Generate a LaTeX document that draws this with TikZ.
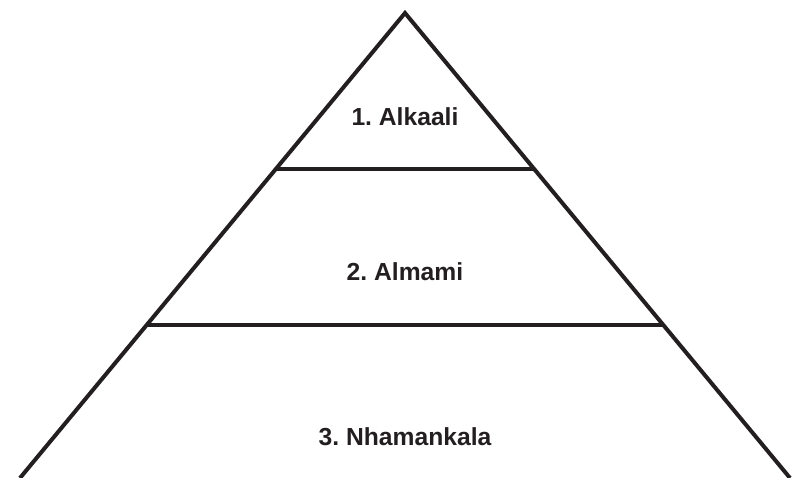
\documentclass[tikz,border=0pt]{standalone}
\usepackage{fontspec}
\setmainfont{Liberation Sans}
\usetikzlibrary{calc}
\definecolor{ink}{HTML}{231F20}
\tikzset{
    edge/.style={draw=ink, line width=3pt, line join=miter},
    tier/.style={text=ink, font=\bfseries\fontsize{18.5}{20}\selectfont, inner sep=0pt},
}
\frenchspacing
\begin{document}
\begin{tikzpicture}[x=0.75pt, y=-0.75pt]
    \path[use as bounding box] (0,0) rectangle (793,478);

    \coordinate (apex) at (405,13);
    \coordinate (baseL) at (20,478);
    \coordinate (baseR) at (790,478);

    % tier borders on the two sides
    \coordinate (upL) at ($(apex)!156/465!(baseL)$);
    \coordinate (upR) at ($(apex)!156/465!(baseR)$);
    \coordinate (midL) at ($(apex)!312/465!(baseL)$);
    \coordinate (midR) at ($(apex)!312/465!(baseR)$);

    \draw[edge] (baseL) -- (apex) -- (baseR);
    \draw[edge] (upL) -- (upR);
    \draw[edge] (midL) -- (midR);

    \node[tier] (alkaali) at (405,117) {1. Alkaali};
    \node[tier] (almami) at (405,272) {2. Almami};
    \node[tier] (nhamankala) at (405,437) {3. Nhamankala};
\end{tikzpicture}
\end{document}
